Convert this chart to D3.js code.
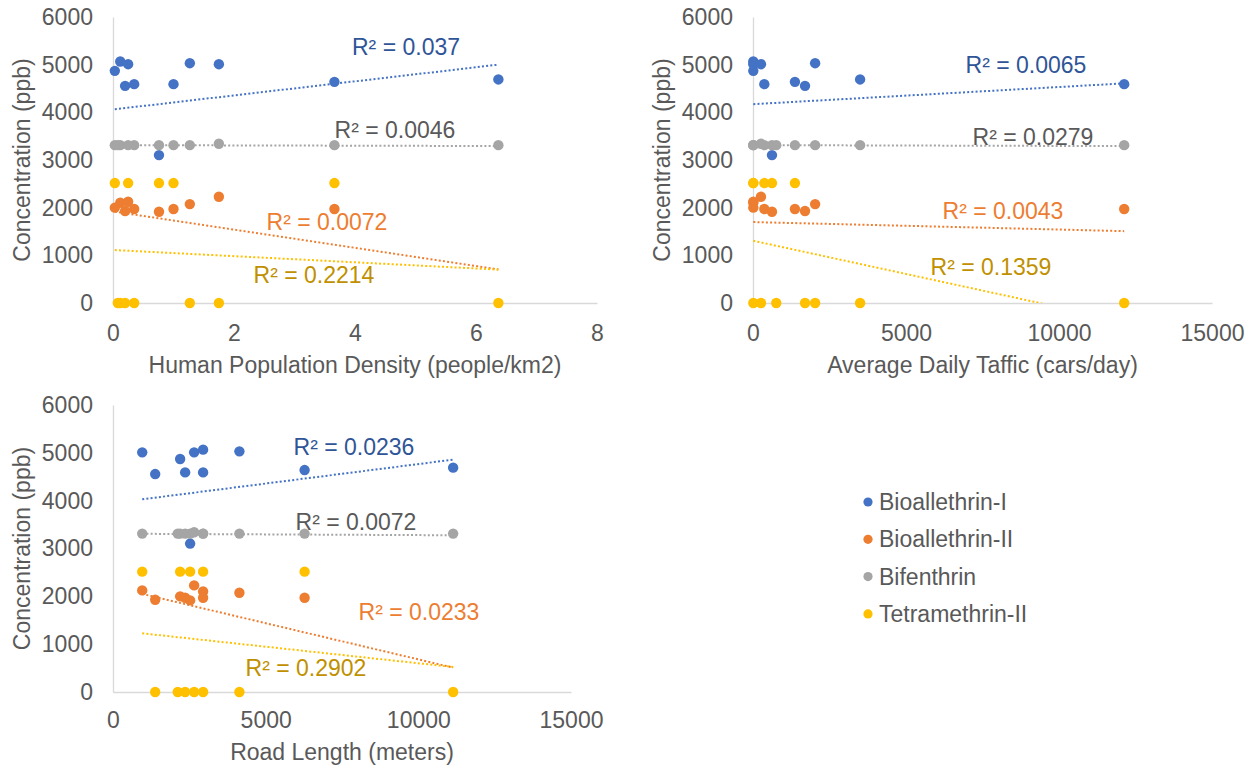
<!DOCTYPE html>
<html>
<head>
<meta charset="utf-8">
<script src="https://cdn.jsdelivr.net/npm/d3@7"></script>
<style>
  body { margin: 0; background: #fff; }
  text { font-family: "Liberation Sans", Arial, sans-serif; }
</style>
</head>
<body>
<svg width="1257" height="769"></svg>
<script>
// one entry per sampling site
var popDensity   = [0.03, 0.12, 0.2, 0.25, 0.35, 0.76, 1.0, 1.27, 1.75, 3.66, 6.37, 0.08];
var dailyTraffic = [10, 10, 1700, 10, 12130, 620, 370, 2030, 260, 1370, 3500, 760];
var roadLength   = [2199, 2951, 1382, 957, 2363, 2526, 2951, 4140, 2657, 6275, 11140, 2120];

var bioallethrinI   = [4870, 5067, 4556, 5010, 4591, 3103, 4591, 5031, 5010, 4640, 4690, null];
var bioallethrinII  = [2000, 2103, 1929, 2124, 1971, 1915, 1971, 2075, 2229, 1971, null, null];
var bifenthrin      = [3312, 3312, null, 3312, 3312, 3312, 3312, 3312, 3340, 3312, 3312, 3312];
var tetramethrinII  = [2516, 0, 0, 2516, 0, 2516, 2516, 0, 0, 2516, 0, 0];

var seriesNames = ["Bioallethrin-I", "Bioallethrin-II", "Bifenthrin", "Tetramethrin-II"];

// linear trendlines (same series order)
var popTrendIntercept = [4060, 1921, 3312, 1112];
var popTrendSlope     = [147.6, -191, -3, -64.6];
var popR2             = ["0.037", "0.0072", "0.0046", "0.2214"];

var trafficTrendIntercept = [4171, 1698, 3312, 1307];
var trafficTrendSlope     = [0.036, -0.0157, -0.0017, -0.1395];
var trafficR2             = ["0.0065", "0.0043", "0.0279", "0.1359"];

var roadTrendIntercept = [3951, 2195, 3310, 1293];
var roadTrendSlope     = [0.0814, -0.1513, -0.003, -0.0692];
var roadR2             = ["0.0236", "0.0233", "0.0072", "0.2902"];

var yTicks = [0, 1000, 2000, 3000, 4000, 5000, 6000];

var colors = ["#4472C4", "#ED7D31", "#A5A5A5", "#FFC000"];
var labelColors = ["#2F5597", "#ED7D31", "#595959", "#BF9000"];
var textColor = "#595959";
var fontSize = 23;

var concentrations = [bioallethrinI, bioallethrinII, bifenthrin, tetramethrinII];

var svg = d3.select("svg");

var panels = [
  {x: popDensity, xMax: 8, xTicks: [0, 2, 4, 6, 8], title: "Human Population Density (people/km2)",
   intercept: popTrendIntercept, slope: popTrendSlope, r2: popR2,
   left: 113, right: 597, top: 17, bottom: 303, yTitleX: 22, tickGap: 30, titleGap: 62,
   labelPos: [[293, 30], [214, 205], [282, 113], [201, 258]]},
  {x: dailyTraffic, xMax: 15000, xTicks: [0, 5000, 10000, 15000], title: "Average Daily Taffic (cars/day)",
   intercept: trafficTrendIntercept, slope: trafficTrendSlope, r2: trafficR2,
   left: 753, right: 1212, top: 17, bottom: 303, yTitleX: 662, tickGap: 30, titleGap: 62,
   labelPos: [[273, 48], [250, 194], [280, 120], [238, 250]]},
  {x: roadLength, xMax: 15000, xTicks: [0, 5000, 10000, 15000], title: "Road Length (meters)",
   intercept: roadTrendIntercept, slope: roadTrendSlope, r2: roadR2,
   left: 113, right: 571, top: 405, bottom: 692, yTitleX: 22, tickGap: 28, titleGap: 60,
   labelPos: [[241, 42], [306, 207], [243, 117], [193, 263]]}
];

panels.forEach(function(p, pi) {
  var xScale = d3.scaleLinear().domain([0, p.xMax]).range([p.left, p.right]);
  var yScale = d3.scaleLinear().domain([0, 6000]).range([p.bottom, p.top]);
  var g = svg.append("g");

  g.append("clipPath").attr("id", "clip" + pi)
    .append("rect")
    .attr("x", p.left).attr("y", p.top)
    .attr("width", p.right - p.left).attr("height", p.bottom - p.top);

  // axes
  var xAxis = d3.axisBottom(xScale).tickValues(p.xTicks).tickFormat(d3.format("d")).tickSize(0);
  var yAxis = d3.axisLeft(yScale).tickValues(yTicks).tickFormat(d3.format("d")).tickSize(0).tickPadding(20);

  var gx = g.append("g").attr("transform", "translate(0," + p.bottom + ")").call(xAxis);
  var gy = g.append("g").attr("transform", "translate(" + p.left + ",0)").call(yAxis);
  [gx, gy].forEach(function(a) {
    a.select(".domain").attr("stroke", "#D9D9D9").attr("stroke-width", 1.3);
    a.selectAll("text").attr("fill", textColor).style("font-size", fontSize + "px")
      .style("font-family", "'Liberation Sans', Arial, sans-serif");
  });
  gx.selectAll("text").attr("dy", null).attr("y", p.tickGap).attr("dominant-baseline", "central");

  g.append("text")
    .attr("x", (p.left + p.right) / 2)
    .attr("y", p.bottom + p.titleGap)
    .attr("text-anchor", "middle")
    .attr("dominant-baseline", "central")
    .attr("fill", textColor)
    .style("font-size", fontSize + "px")
    .text(p.title);

  g.append("text")
    .attr("transform", "translate(" + p.yTitleX + "," + ((p.top + p.bottom) / 2) + ") rotate(-90)")
    .attr("text-anchor", "middle")
    .attr("dominant-baseline", "central")
    .attr("fill", textColor)
    .style("font-size", fontSize + "px")
    .text("Concentration (ppb)");

  var xExtent = d3.extent(p.x);

  // trendlines
  var line = d3.line()
    .x(function(d) { return xScale(d[0]); })
    .y(function(d) { return yScale(d[1]); });

  concentrations.forEach(function(vals, si) {
    var pts = xExtent.map(function(xv) { return [xv, p.intercept[si] + p.slope[si] * xv]; });
    g.append("path")
      .datum(pts)
      .attr("d", line)
      .attr("clip-path", "url(#clip" + pi + ")")
      .attr("fill", "none")
      .attr("stroke", colors[si])
      .attr("stroke-width", 2)
      .attr("stroke-dasharray", "2,2.2");
  });

  // points
  concentrations.forEach(function(vals, si) {
    var pts = vals.map(function(c, i) { return {x: p.x[i], y: c}; })
      .filter(function(d) { return d.y !== null; });
    g.append("g").selectAll("circle")
      .data(pts)
      .enter().append("circle")
      .attr("cx", function(d) { return xScale(d.x); })
      .attr("cy", function(d) { return yScale(d.y); })
      .attr("r", 5.2)
      .attr("fill", colors[si]);
  });

  // R² labels
  concentrations.forEach(function(vals, si) {
    g.append("text")
      .attr("x", p.left + p.labelPos[si][0])
      .attr("y", p.top + p.labelPos[si][1])
      .attr("text-anchor", "middle")
      .attr("dominant-baseline", "central")
      .attr("fill", labelColors[si])
      .style("font-size", fontSize + "px")
      .text("R² = " + p.r2[si]);
  });
});

// legend
var legend = svg.append("g").attr("transform", "translate(868,502)");
var rows = legend.selectAll("g").data(seriesNames).enter().append("g")
  .attr("transform", function(d, i) { return "translate(0," + (i * 37.3) + ")"; });
rows.append("circle").attr("r", 4.6).attr("fill", function(d, i) { return colors[i]; });
rows.append("text")
  .attr("x", 11)
  .attr("dominant-baseline", "central")
  .attr("fill", textColor)
  .style("font-size", fontSize + "px")
  .text(function(d) { return d; });
</script>
</body>
</html>
